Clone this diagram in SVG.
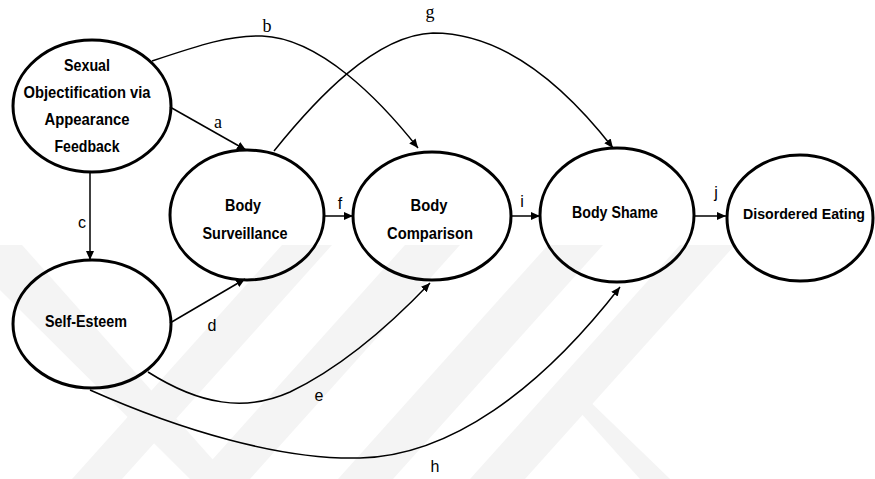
<svg xmlns="http://www.w3.org/2000/svg" width="875" height="479" viewBox="0 0 875 479">
<style>
.node ellipse{fill:none;stroke:#000;stroke-width:3}
.nt{font-family:"Liberation Sans",Arial,sans-serif;font-weight:bold;font-size:17px;fill:#000;text-anchor:middle}
.edge{fill:none;stroke:#000;stroke-width:1.5}
.lbs{font-family:"Liberation Sans",Arial,sans-serif;font-size:16px;fill:#000;text-anchor:middle}
.lbr{font-family:"Liberation Serif","Times New Roman",serif;font-size:18px;fill:#000;text-anchor:middle}
.wm{fill:#f4f4f4}
</style>
<defs>
<marker id="ah" markerUnits="userSpaceOnUse" viewBox="0 0 9 8" markerWidth="9" markerHeight="8" refX="9" refY="4" orient="auto">
<path d="M0,0 L9,4 L0,8 z" fill="#000"/>
</marker>
</defs>
<rect width="875" height="479" fill="#fff"/>
<g id="watermark">
<polygon class="wm" points="282,245 332,245 122,479 72,479"/>
<polygon class="wm" points="405,245 460,245 250,479 195,479"/>
<polygon class="wm" points="548,245 603,245 393,479 338,479"/>
<polygon class="wm" points="680,245 735,245 525,479 470,479"/>
<polygon class="wm" points="0,245 22,245 230,479 190,479 0,290"/>
<polygon class="wm" points="562,392 580,392 670,479 640,479"/>
</g>
<g id="connectors">
<path class="edge" marker-end="url(#ah)" d="M170,107 L246,150"/>
<path class="edge" marker-end="url(#ah)" d="M152,61 C200,45 230,35 262,36 C320,38 380,100 418,148"/>
<path class="edge" marker-end="url(#ah)" d="M274,151 C315,100 375,35 433,33 C500,33 560,80 613,148"/>
<path class="edge" marker-end="url(#ah)" d="M90,172 L90,260"/>
<path class="edge" marker-end="url(#ah)" d="M170,323 L245,279"/>
<path class="edge" marker-end="url(#ah)" d="M148,372 C200,405 245,412 290,392 C340,368 390,325 430,283"/>
<path class="edge" marker-end="url(#ah)" d="M90,390 C180,430 280,460 360,458 C450,456 540,390 620,287"/>
<path class="edge" marker-end="url(#ah)" d="M325,216 L353,216"/>
<path class="edge" marker-end="url(#ah)" d="M510,216 L540,216"/>
<path class="edge" marker-end="url(#ah)" d="M693,216 L726,216"/>
<text class="lbr" x="218" y="128">a</text>
<text class="lbr" x="267" y="32">b</text>
<text class="lbr" x="430" y="18">g</text>
<text class="lbs" x="82" y="228">c</text>
<text class="lbs" x="212" y="331">d</text>
<text class="lbs" x="319" y="401">e</text>
<text class="lbs" x="340" y="209">f</text>
<text class="lbs" x="435" y="472">h</text>
<text class="lbs" x="522" y="207">i</text>
<text class="lbs" x="716" y="198">j</text>
</g>
<g id="sexual-objectification" class="node">
<ellipse cx="92" cy="106" rx="79" ry="66"/>
<text class="nt" x="87" y="71" textLength="46" lengthAdjust="spacingAndGlyphs">Sexual</text>
<text class="nt" x="87" y="98" textLength="127" lengthAdjust="spacingAndGlyphs">Objectification via</text>
<text class="nt" x="87" y="125" textLength="85" lengthAdjust="spacingAndGlyphs">Appearance</text>
<text class="nt" x="87" y="152" textLength="65" lengthAdjust="spacingAndGlyphs">Feedback</text>
</g>
<g id="self-esteem" class="node">
<ellipse cx="92" cy="324" rx="79" ry="64"/>
<text class="nt" x="86" y="327" textLength="82" lengthAdjust="spacingAndGlyphs">Self-Esteem</text>
</g>
<g id="body-surveillance" class="node">
<ellipse cx="247" cy="215" rx="77" ry="65"/>
<text class="nt" x="243" y="211" textLength="36" lengthAdjust="spacingAndGlyphs">Body</text>
<text class="nt" x="245" y="239" textLength="85" lengthAdjust="spacingAndGlyphs">Surveillance</text>
</g>
<g id="body-comparison" class="node">
<ellipse cx="432" cy="216" rx="79" ry="64"/>
<text class="nt" x="429" y="211" textLength="37" lengthAdjust="spacingAndGlyphs">Body</text>
<text class="nt" x="430" y="239" textLength="86" lengthAdjust="spacingAndGlyphs">Comparison</text>
</g>
<g id="body-shame" class="node">
<ellipse cx="617" cy="215" rx="77" ry="67"/>
<text class="nt" x="615" y="218" textLength="86" lengthAdjust="spacingAndGlyphs">Body Shame</text>
</g>
<g id="disordered-eating" class="node">
<ellipse cx="800" cy="218" rx="73" ry="63"/>
<text class="nt" x="804" y="219" style="font-size:15px" textLength="122" lengthAdjust="spacingAndGlyphs">Disordered Eating</text>
</g>
</svg>
